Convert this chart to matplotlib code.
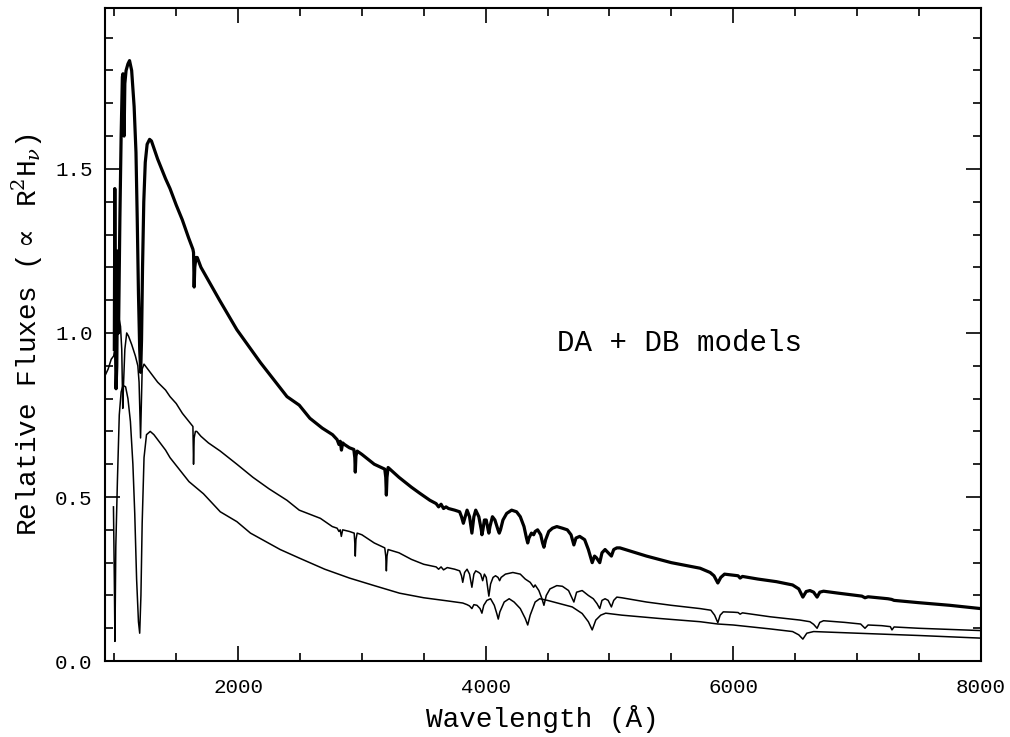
import numpy as np
import matplotlib
matplotlib.use('Agg')
import matplotlib.pyplot as plt
from matplotlib.ticker import MultipleLocator

plt.rcParams['font.family'] = ['Liberation Mono', 'DejaVu Sans Mono']
plt.rcParams['mathtext.fontset'] = 'dejavuserif'

# top curve (thick)
wl_top = [1000, 1004, 1008, 1014, 1020, 1028, 1034, 1045, 1055, 1065, 1070, 1075, 1079, 1085,
          1095, 1110, 1123, 1140, 1160, 1175, 1185, 1195, 1205, 1213, 1220, 1228, 1238, 1250,
          1265, 1285, 1300, 1350, 1414, 1450, 1500, 1549, 1600, 1635, 1640, 1645, 1650, 1660,
          1670, 1700, 1760, 1850, 1990, 2180, 2395, 2494, 2580, 2680, 2763, 2800, 2815, 2825,
          2835, 2845, 2860, 2900, 2935, 2943, 2947, 2952, 2962, 3000, 3100, 3185, 3193, 3198,
          3203, 3212, 3300, 3400, 3466, 3550, 3600, 3620, 3640, 3660, 3680, 3700, 3750, 3790,
          3805, 3820, 3835, 3850, 3870, 3889, 3905, 3920, 3945, 3965, 3970, 3978, 3990, 4005,
          4020, 4026, 4035, 4055, 4075, 4100, 4110, 4120, 4140, 4170, 4210, 4250, 4280, 4310,
          4330, 4340, 4350, 4370, 4388, 4400, 4420, 4445, 4460, 4471, 4485, 4510, 4540, 4575,
          4620, 4660, 4690, 4713, 4730, 4760, 4800, 4830, 4861, 4880, 4895, 4922, 4940, 4965,
          4990, 5016, 5035, 5060, 5085, 5300, 5500, 5733, 5814, 5845, 5876, 5900, 5930, 6000,
          6040, 6056, 6075, 6200, 6350, 6480, 6530, 6563, 6590, 6620, 6650, 6678, 6700, 6730,
          6850, 7000, 7040, 7065, 7090, 7250, 7280, 7300, 7500, 7750, 8000]
fl_top = [0.95, 1.44, 1.00, 0.83, 0.90, 1.25, 1.00, 1.35, 1.60, 1.78, 1.79, 1.62, 1.60, 1.76,
          1.80, 1.82, 1.83, 1.80, 1.69, 1.55, 1.35, 1.12, 0.95, 0.88, 0.98, 1.20, 1.40, 1.52,
          1.575, 1.59, 1.585, 1.53, 1.47, 1.44, 1.39, 1.345, 1.29, 1.255, 1.245, 1.14, 1.20, 1.23,
          1.23, 1.20, 1.16, 1.10, 1.01, 0.91, 0.806, 0.78, 0.74, 0.71, 0.69, 0.675, 0.66, 0.67,
          0.643, 0.665, 0.66, 0.65, 0.645, 0.62, 0.576, 0.625, 0.64, 0.63, 0.60, 0.585, 0.56, 0.506,
          0.56, 0.59, 0.56, 0.53, 0.512, 0.49, 0.48, 0.47, 0.478, 0.465, 0.47, 0.465, 0.46, 0.455,
          0.44, 0.42, 0.44, 0.46, 0.44, 0.39, 0.44, 0.46, 0.44, 0.40, 0.385, 0.40, 0.43, 0.43,
          0.40, 0.39, 0.41, 0.44, 0.43, 0.40, 0.39, 0.40, 0.43, 0.45, 0.46, 0.455, 0.44, 0.41,
          0.375, 0.36, 0.375, 0.39, 0.385, 0.395, 0.40, 0.385, 0.36, 0.347, 0.37, 0.395, 0.405, 0.41,
          0.405, 0.40, 0.385, 0.354, 0.375, 0.38, 0.37, 0.34, 0.30, 0.32, 0.315, 0.30, 0.33, 0.34,
          0.33, 0.32, 0.34, 0.345, 0.345, 0.32, 0.30, 0.283, 0.27, 0.26, 0.238, 0.255, 0.265, 0.262,
          0.26, 0.253, 0.258, 0.25, 0.242, 0.232, 0.22, 0.195, 0.212, 0.215, 0.21, 0.195, 0.21, 0.213,
          0.207, 0.20, 0.198, 0.193, 0.196, 0.19, 0.188, 0.185, 0.178, 0.17, 0.16]

# middle curve
wl_mid = [925, 950, 975, 995, 1010, 1020, 1030, 1040, 1050, 1060, 1068, 1075, 1085, 1100,
          1115, 1140, 1170, 1190, 1200, 1207, 1212, 1218, 1225, 1240, 1270, 1300, 1350, 1414,
          1450, 1500, 1550, 1603, 1635, 1640, 1645, 1655, 1666, 1700, 1760, 1856, 1990, 2120,
          2250, 2395, 2494, 2665, 2761, 2800, 2815, 2825, 2834, 2845, 2900, 2938, 2943, 2947,
          2952, 2962, 3000, 3100, 3185, 3193, 3198, 3203, 3212, 3300, 3400, 3500, 3600, 3620,
          3640, 3660, 3690, 3750, 3790, 3805, 3815, 3830, 3850, 3870, 3889, 3905, 3920, 3945,
          3960, 3976, 3990, 4005, 4026, 4040, 4060, 4080, 4100, 4113, 4125, 4160, 4220, 4280,
          4320, 4360, 4388, 4400, 4430, 4455, 4471, 4490, 4520, 4575, 4620, 4670, 4713, 4735,
          4780, 4830, 4870, 4900, 4922, 4940, 4965, 4990, 5016, 5035, 5060, 5100, 5300, 5500,
          5733, 5820, 5850, 5876, 5895, 5920, 6000, 6040, 6056, 6075, 6300, 6540, 6620, 6650,
          6678, 6700, 6730, 6900, 7030, 7065, 7090, 7200, 7270, 7283, 7300, 7500, 8000]
fl_mid = [0.87, 0.89, 0.92, 0.93, 0.97, 1.00, 1.03, 1.04, 1.02, 0.95, 0.77, 0.85, 0.95, 1.00,
          0.99, 0.965, 0.93, 0.90, 0.85, 0.75, 0.68, 0.78, 0.89, 0.905, 0.89, 0.875, 0.85, 0.826,
          0.806, 0.785, 0.755, 0.73, 0.715, 0.60, 0.68, 0.70, 0.70, 0.685, 0.665, 0.64, 0.60, 0.56,
          0.525, 0.49, 0.46, 0.435, 0.41, 0.405, 0.395, 0.40, 0.38, 0.40, 0.395, 0.39, 0.36, 0.32,
          0.37, 0.39, 0.385, 0.36, 0.345, 0.32, 0.275, 0.32, 0.34, 0.33, 0.31, 0.295, 0.287, 0.28,
          0.287, 0.278, 0.285, 0.28, 0.275, 0.26, 0.24, 0.27, 0.28, 0.265, 0.225, 0.265, 0.275, 0.27,
          0.265, 0.245, 0.265, 0.255, 0.198, 0.235, 0.255, 0.26, 0.255, 0.245, 0.255, 0.265, 0.27, 0.265,
          0.25, 0.24, 0.225, 0.232, 0.215, 0.19, 0.17, 0.20, 0.22, 0.23, 0.228, 0.215, 0.18, 0.21,
          0.215, 0.20, 0.19, 0.175, 0.16, 0.185, 0.19, 0.185, 0.165, 0.185, 0.195, 0.193, 0.18, 0.17,
          0.16, 0.155, 0.14, 0.117, 0.14, 0.15, 0.149, 0.148, 0.143, 0.147, 0.135, 0.125, 0.12, 0.112,
          0.10, 0.118, 0.123, 0.118, 0.113, 0.10, 0.11, 0.108, 0.105, 0.095, 0.104, 0.10, 0.093]

# bottom curve
wl_bot = [993, 1000, 1005, 1012, 1025, 1040, 1055, 1070, 1091, 1110, 1130, 1150, 1165, 1180,
          1195, 1205, 1215, 1225, 1240, 1260, 1290, 1320, 1414, 1450, 1603, 1720, 1856, 1990,
          2100, 2340, 2494, 2700, 2900, 3100, 3304, 3500, 3700, 3815, 3850, 3870, 3889, 3905,
          3930, 3955, 3970, 3985, 4010, 4040, 4070, 4090, 4102, 4115, 4150, 4190, 4230, 4280,
          4320, 4340, 4360, 4400, 4437, 4500, 4600, 4700, 4780, 4830, 4861, 4890, 4930, 4970,
          5100, 5400, 5733, 5876, 6000, 6300, 6480, 6530, 6563, 6595, 6650, 7000, 7500, 8000]
fl_bot = [0.47, 0.25, 0.06, 0.35, 0.55, 0.75, 0.82, 0.84, 0.836, 0.80, 0.73, 0.60, 0.45, 0.25,
          0.12, 0.085, 0.20, 0.42, 0.62, 0.69, 0.70, 0.69, 0.643, 0.62, 0.547, 0.51, 0.455, 0.425,
          0.39, 0.34, 0.314, 0.28, 0.253, 0.23, 0.207, 0.193, 0.183, 0.177, 0.172, 0.168, 0.16, 0.172,
          0.17, 0.16, 0.146, 0.17, 0.185, 0.19, 0.17, 0.145, 0.128, 0.15, 0.18, 0.19, 0.18, 0.16,
          0.13, 0.11, 0.14, 0.18, 0.19, 0.185, 0.175, 0.165, 0.145, 0.12, 0.095, 0.125, 0.14, 0.146,
          0.14, 0.13, 0.12, 0.113, 0.11, 0.098, 0.09, 0.08, 0.067, 0.085, 0.09, 0.085, 0.078, 0.07]

fig = plt.figure(figsize=(10.1, 7.37), dpi=100)
ax = fig.add_axes([0.104, 0.103, 0.867, 0.886])

ax.plot(wl_top, fl_top, color='black', lw=2.3)
ax.plot(wl_mid, fl_mid, color='black', lw=1.1)
ax.plot(wl_bot, fl_bot, color='black', lw=1.1)

ax.set_xlim(925, 8000)
ax.set_ylim(0, 1.99)
ax.xaxis.set_major_locator(MultipleLocator(2000))
ax.xaxis.set_minor_locator(MultipleLocator(500))
ax.yaxis.set_major_locator(MultipleLocator(0.5))
ax.yaxis.set_minor_locator(MultipleLocator(0.1))
ax.yaxis.set_major_formatter(matplotlib.ticker.FormatStrFormatter('%.1f'))
ax.tick_params(which='both', direction='in', top=True, right=True, width=1.2)
ax.tick_params(which='major', length=11, labelsize=15, pad=9)
ax.tick_params(axis='x', which='major', pad=12)
ax.tick_params(which='minor', length=5.5)
for s in ax.spines.values():
    s.set_linewidth(1.5)

ax.set_xlabel('Wavelength (Å)', fontsize=20, labelpad=6)
ax.set_ylabel(r'Relative Fluxes ($\propto$ R$^2$H$_\nu$)', fontsize=20, labelpad=7)
ax.text(5563, 0.97, 'DA + DB models', fontsize=21, ha='center', va='center')

fig.savefig('out.png', dpi=100)
